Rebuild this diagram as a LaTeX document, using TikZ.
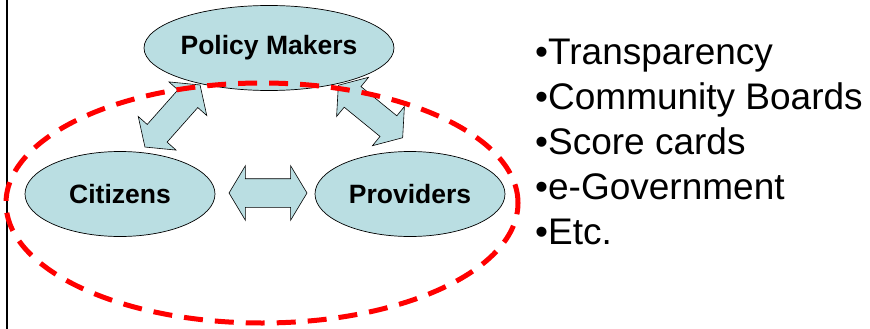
\documentclass[tikz,border=0pt]{standalone}
\usepackage{fontspec}
\setmainfont{Liberation Sans}
\usetikzlibrary{shapes.geometric,shapes.arrows}
\definecolor{boxblue}{RGB}{186,222,226}
\tikzset{
  actor/.style={ellipse,draw=black,line width=0.7pt,fill=boxblue,inner sep=0pt,
    minimum width=190pt,minimum height=85pt,font=\fontsize{26.5}{30}\selectfont\bfseries},
  link/.style={double arrow,draw=black,line width=0.6pt,fill=boxblue,inner xsep=0pt,
    inner ysep=13pt,minimum height=83pt,double arrow head extend=12pt,
    double arrow tip angle=108},
  item/.style={anchor=base west,inner sep=0pt,font=\fontsize{37}{44}\selectfont}
}
\begin{document}
\begin{tikzpicture}[x=1pt,y=-1pt]
  \useasboundingbox (0,0) rectangle (870,329);
  \draw[line width=2pt] (7,0) -- (7,329);

  \node[actor] (pm) at (269,48) {Policy Makers};
  \node[actor] (cit) at (120,194) {Citizens};
  \node[actor] (prov) at (410,194) {Providers};

  % block arrows between the actors
  \node[link,rotate=48.4] (pmcit) at (172.5,116) {};
  \node[link,rotate=-39.2] (pmprov) at (370.5,111.5) {};
  \node[link,minimum height=78pt,inner ysep=14pt,double arrow head extend=13pt,
    double arrow tip angle=118] (citprov) at (268,193) {};

  \draw[red,line width=5pt,dash pattern=on 19pt off 12pt] (262,203) ellipse [x radius=256pt,y radius=120pt];

  \foreach \txt [count=\i from 0] in {Transparency,Community Boards,Score cards,e-Government,Etc.}
    \node[item] (item\i) at (535,65+44.75*\i) {•\txt};
\end{tikzpicture}
\end{document}
